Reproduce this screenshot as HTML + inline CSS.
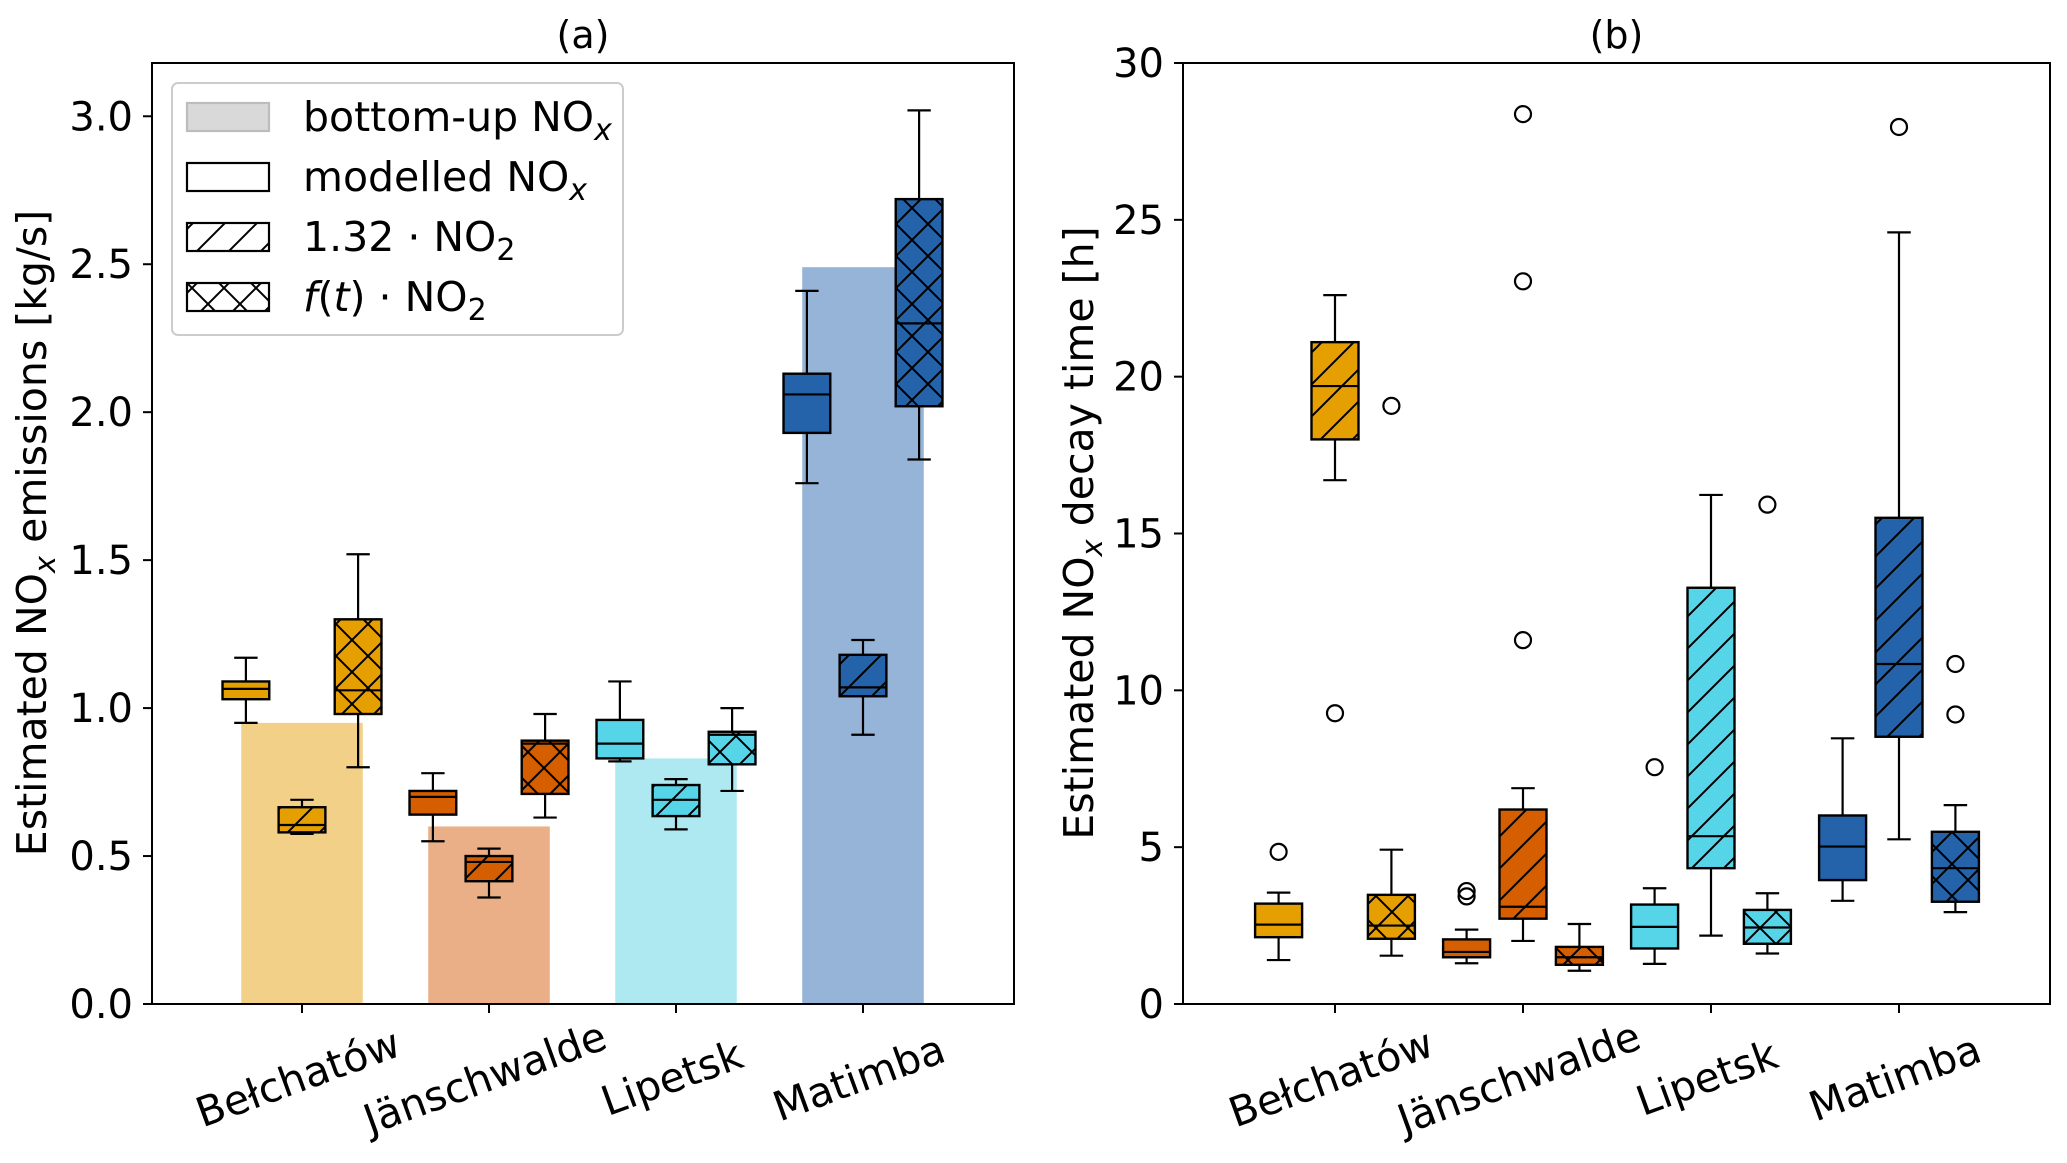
<!DOCTYPE html>
<html><head><meta charset="utf-8">
<style>
html,body{margin:0;padding:0;background:#fff;}
svg{display:block;font-family:"DejaVu Sans","Liberation Sans",sans-serif;}
</style></head>
<body>
<svg id="fig" width="2067" height="1163" viewBox="0 0 2067 1163" xmlns="http://www.w3.org/2000/svg">
<defs>
<pattern id="hs" patternUnits="userSpaceOnUse" width="32" height="32">
<path d="M-8,8 L8,-8 M0,32 L32,0 M24,40 L40,24" stroke="#000" stroke-width="2"/>
</pattern>
<pattern id="hx" patternUnits="userSpaceOnUse" width="32" height="32">
<path d="M0,32 L32,0 M-8,8 L8,-8 M24,40 L40,24 M0,0 L32,32 M-8,24 L8,40 M24,-8 L40,8" stroke="#000" stroke-width="2"/>
</pattern>
</defs>
<g id="root"></g>
</svg>
<script>
const categories = ["Bełchatów","Jänschwalde","Lipetsk","Matimba"];
const colors = ["#E69F00","#D55E00","#56D4E8","#2462AA"];
const barColors = ["#F2D088","#EAAF86","#AEE9F2","#95B4D7"];
const emisTicks = [0.0,0.5,1.0,1.5,2.0,2.5,3.0];
const emisTickLabels = ["0.0","0.5","1.0","1.5","2.0","2.5","3.0"];
const decayTicks = [0,5,10,15,20,25,30];
const decayTickLabels = ["0","5","10","15","20","25","30"];
const bottomUp = [0.95,0.60,0.83,2.49];
// [whislo, q1, med, q3, whishi]
const emisModelled = [[0.95,1.03,1.065,1.09,1.17],[0.55,0.64,0.70,0.72,0.78],[0.82,0.83,0.88,0.96,1.09],[1.76,1.93,2.06,2.13,2.41]];
const emisNO2 = [[0.575,0.58,0.605,0.665,0.69],[0.36,0.415,0.48,0.50,0.525],[0.59,0.635,0.69,0.74,0.76],[0.91,1.04,1.07,1.18,1.23]];
const emisFt = [[0.80,0.98,1.06,1.30,1.52],[0.63,0.71,0.88,0.89,0.98],[0.72,0.81,0.91,0.92,1.00],[1.84,2.02,2.30,2.72,3.02]];
const decayModelled = [[1.4,2.13,2.53,3.2,3.55],[1.3,1.49,1.66,2.06,2.37],[1.28,1.77,2.46,3.17,3.69],[3.29,3.95,5.02,6.01,8.47]];
const decayModelledFliers = [[4.85],[3.6,3.43],[7.55],[]];
const decayNO2 = [[16.7,18.0,19.7,21.1,22.6],[2.01,2.72,3.1,6.2,6.88],[2.18,4.33,5.35,13.27,16.23],[5.25,8.52,10.84,15.5,24.6]];
const decayNO2Fliers = [[9.27],[11.6,23.04,28.37],[],[27.96]];
const decayFt = [[1.54,2.08,2.5,3.48,4.92],[1.06,1.25,1.49,1.82,2.55],[1.61,1.92,2.44,3.0,3.53],[2.93,3.26,4.33,5.49,6.34]];
const decayFtFliers = [[19.07],[],[15.92],[9.23,10.84]];

const NS="http://www.w3.org/2000/svg";
const root=document.getElementById('root');
function mk(tag,attrs,parent){const e=document.createElementNS(NS,tag);for(const k in attrs)e.setAttribute(k,attrs[k]);(parent||root).appendChild(e);return e;}

function panel(cfg){
  const g=mk('g',{});
  
  
  const L=cfg.left,R=cfg.right,T=63,B=1004;
  const xS=i=>cfg.x0+i*cfg.dx;
  const yS=v=>B-(v/cfg.ymax)*(B-T);
  const unit=cfg.dx;
  if(cfg.bars){
    cfg.bars.forEach((v,i)=>{
      const r=mk('rect',{x:xS(i)-0.325*unit,y:yS(v),width:0.65*unit,height:B-yS(v),fill:barColors[i]},g);
      
      
    });
  }
  const series=[{d:cfg.mod,off:-0.3,fl:cfg.modF,h:null,n:'modelled'},{d:cfg.no2,off:0,fl:cfg.no2F,h:'url(#hs)',n:'no2'},{d:cfg.ft,off:0.3,fl:cfg.ftF,h:'url(#hx)',n:'ft'}];
  series.forEach(s=>{
    s.d.forEach((b,i)=>{
      const cx=xS(i)+s.off*unit,w=0.25*unit;
      const bg=mk('g',{},g);
      
      
      mk('line',{x1:cx,x2:cx,y1:yS(b[0]),y2:yS(b[1]),stroke:'#000','stroke-width':2.2},bg);
      mk('line',{x1:cx,x2:cx,y1:yS(b[3]),y2:yS(b[4]),stroke:'#000','stroke-width':2.2},bg);
      mk('line',{x1:cx-w/4,x2:cx+w/4,y1:yS(b[0]),y2:yS(b[0]),stroke:'#000','stroke-width':2.2},bg);
      mk('line',{x1:cx-w/4,x2:cx+w/4,y1:yS(b[4]),y2:yS(b[4]),stroke:'#000','stroke-width':2.2},bg);
      mk('rect',{x:cx-w/2,y:yS(b[3]),width:w,height:yS(b[1])-yS(b[3]),fill:colors[i]},bg);
      if(s.h) mk('rect',{x:cx-w/2,y:yS(b[3]),width:w,height:yS(b[1])-yS(b[3]),fill:s.h},bg);
      mk('rect',{x:cx-w/2,y:yS(b[3]),width:w,height:yS(b[1])-yS(b[3]),fill:'none',stroke:'#000','stroke-width':2.4},bg);
      mk('line',{x1:cx-w/2,x2:cx+w/2,y1:yS(b[2]),y2:yS(b[2]),stroke:'#000','stroke-width':2.2},bg);
      if(s.fl) s.fl[i].forEach(f=>{
        const c=mk('circle',{cx:cx,cy:yS(f),r:8,fill:'none',stroke:'#000','stroke-width':2.2},bg);
        
        
      });
    });
  });
  const fr=mk('rect',{x:L,y:T,width:R-L,height:B-T,fill:'none',stroke:'#000','stroke-width':2},g);
  
  
  cfg.ticks.forEach((t,k)=>{
    mk('line',{x1:L-9,x2:L,y1:yS(t),y2:yS(t),stroke:'#000','stroke-width':2},g);
    const tx=mk('text',{x:L-19,y:yS(t)+14,'font-size':40,'text-anchor':'end'},g);
    tx.textContent=cfg.tickLabels[k];
    
    
  });
  categories.forEach((c,i)=>{
    mk('line',{x1:xS(i),x2:xS(i),y1:B,y2:B+9,stroke:'#000','stroke-width':2},g);
    const tx=mk('text',{x:xS(i)-4,y:1092,'font-size':41,'text-anchor':'middle',transform:`rotate(-20 ${xS(i)-4} 1078)`},g);
    tx.textContent=c;
    
    
  });
  const ti=mk('text',{x:(L+R)/2,y:48,'font-size':38,'text-anchor':'middle'},g);
  ti.textContent=cfg.title;
  
  
  const yt=mk('text',{x:cfg.ytX,y:533,'font-size':41,'text-anchor':'middle',transform:`rotate(-90 ${cfg.ytX} 533)`},g);
  yt.innerHTML=cfg.ytitle;
  
  
  return g;
}
panel({name:'panel-a-emissions',left:152,right:1014,x0:302,dx:187,ymax:3.18,bars:bottomUp,mod:emisModelled,no2:emisNO2,ft:emisFt,ticks:emisTicks,tickLabels:emisTickLabels,title:'(a)',ytX:46,
  ytitle:'Estimated NO<tspan font-size="29" font-style="italic" dy="9">x</tspan><tspan dy="-9"> emissions [kg/s]</tspan>'});
panel({name:'panel-b-decay',left:1183,right:2050,x0:1335,dx:188,ymax:30,mod:decayModelled,modF:decayModelledFliers,no2:decayNO2,no2F:decayNO2Fliers,ft:decayFt,ftF:decayFtFliers,ticks:decayTicks,tickLabels:decayTickLabels,title:'(b)',ytX:1093,
  ytitle:'Estimated NO<tspan font-size="29" font-style="italic" dy="9">x</tspan><tspan dy="-9"> decay time [h]</tspan>'});

// legend
const lg=mk('g',{});


mk('rect',{x:172,y:83,width:451,height:252,rx:6,fill:'#fff','fill-opacity':0.85,stroke:'#ccc','stroke-width':2},lg);
const entries=[
 {fill:'#d9d9d9',stroke:'#bdbdbd',h:null,html:'bottom-up NO<tspan font-size="30" font-style="italic" dy="9">x</tspan>'},
 {fill:'#fff',stroke:'#000',h:null,html:'modelled NO<tspan font-size="30" font-style="italic" dy="9">x</tspan>'},
 {fill:'#fff',stroke:'#000',h:'url(#hs)',html:'1.32 · NO<tspan font-size="30" dy="9">2</tspan>'},
 {fill:'#fff',stroke:'#000',h:'url(#hx)',html:'<tspan font-style="italic">f</tspan>(<tspan font-style="italic">t</tspan>) · NO<tspan font-size="30" dy="9">2</tspan>'}];
entries.forEach((e,k)=>{
  const cy=117+k*60;
  const eg=mk('g',{},lg);
  
  
  mk('rect',{x:187,y:cy-14,width:82,height:28,fill:e.fill},eg);
  if(e.h) mk('rect',{x:187,y:cy-14,width:82,height:28,fill:e.h},eg);
  mk('rect',{x:187,y:cy-14,width:82,height:28,fill:'none',stroke:e.stroke,'stroke-width':2.2},eg);
  const t=mk('text',{x:303,y:cy+14,'font-size':41},eg);
  t.innerHTML=e.html;
});
</script>
</body></html>
